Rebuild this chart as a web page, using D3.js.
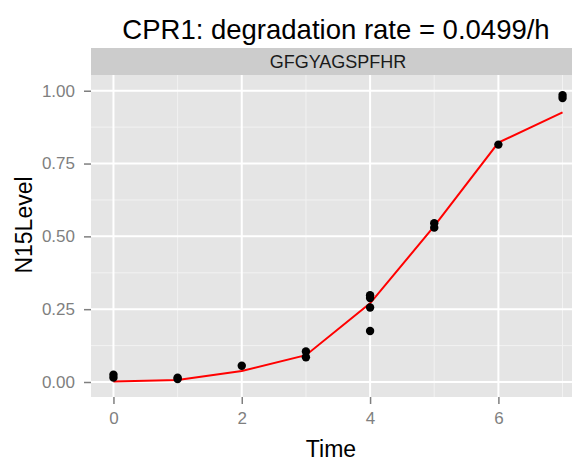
<!DOCTYPE html>
<html lang="en">
	<head>
		<meta charset="utf-8">
		<title>CPR1 degradation</title>
		<script type="text/javascript" src="https://d3js.org/d3.v7.min.js"></script>
		<style type="text/css">
			body {
				margin: 0;
				background-color: #ffffff;
				font-family: "Liberation Sans", Arial, Helvetica, sans-serif;
			}
			svg { display: block; }
		</style>
	</head>
	<body>
		<script type="text/javascript">

			// Measured points (time, N15 level)
			var pointTimes  = [0, 0, 1, 1, 2, 3, 3, 4, 4, 4, 4, 5, 5, 6, 7, 7];
			var pointLevels = [0.015, 0.025, 0.010, 0.015, 0.056, 0.085, 0.105,
			                   0.298, 0.288, 0.256, 0.175, 0.545, 0.530, 0.815, 0.985, 0.975];

			// Fitted curve
			var fitTimes  = [0, 1, 2, 3, 4, 5, 6, 7];
			var fitLevels = [0.002, 0.007, 0.038, 0.092, 0.270, 0.535, 0.822, 0.926];

			var xTicks = [0, 2, 4, 6];
			var xMinor = [1, 3, 5, 7];
			var yTicks = [0, 0.25, 0.5, 0.75, 1.0];
			var yMinor = [0.125, 0.375, 0.625, 0.875];

			var title = "CPR1: degradation rate = 0.0499/h";
			var stripLabel = "GFGYAGSPFHR";

			//Width and height
			var w = 572;
			var h = 462;

			var panel = {left: 91, right: 585, top: 75, bottom: 397};
			var stripTop = 48;

			var x = d3.scaleLinear()
				.domain([-0.35, 7.35])
				.range([panel.left, panel.right]);

			var y = d3.scaleLinear()
				.domain([-0.0515, 1.054])
				.range([panel.bottom, panel.top]);

			var svg = d3.select("body")
				.append("svg")
				.attr("width", w)
				.attr("height", h);

			// Panel background
			svg.append("rect")
				.attr("x", panel.left)
				.attr("y", panel.top)
				.attr("width", panel.right - panel.left)
				.attr("height", panel.bottom - panel.top)
				.attr("fill", "#e5e5e5");

			// Strip
			svg.append("rect")
				.attr("x", panel.left)
				.attr("y", stripTop)
				.attr("width", panel.right - panel.left)
				.attr("height", panel.top - stripTop)
				.attr("fill", "#cccccc");

			svg.append("text")
				.attr("x", (panel.left + panel.right) / 2)
				.attr("y", 68)
				.attr("text-anchor", "middle")
				.attr("font-size", "18px")
				.attr("fill", "#1a1a1a")
				.text(stripLabel);

			// Minor grid
			svg.selectAll("line.xminor")
				.data(xMinor)
				.enter().append("line")
				.attr("x1", function(d) { return x(d); })
				.attr("x2", function(d) { return x(d); })
				.attr("y1", panel.top)
				.attr("y2", panel.bottom)
				.attr("stroke", "#f2f2f2")
				.attr("stroke-width", 1);

			svg.selectAll("line.yminor")
				.data(yMinor)
				.enter().append("line")
				.attr("x1", panel.left)
				.attr("x2", panel.right)
				.attr("y1", function(d) { return y(d); })
				.attr("y2", function(d) { return y(d); })
				.attr("stroke", "#f2f2f2")
				.attr("stroke-width", 1);

			// Major grid
			svg.selectAll("line.xmajor")
				.data(xTicks)
				.enter().append("line")
				.attr("x1", function(d) { return x(d); })
				.attr("x2", function(d) { return x(d); })
				.attr("y1", panel.top)
				.attr("y2", panel.bottom)
				.attr("stroke", "#ffffff")
				.attr("stroke-width", 2);

			svg.selectAll("line.ymajor")
				.data(yTicks)
				.enter().append("line")
				.attr("x1", panel.left)
				.attr("x2", panel.right)
				.attr("y1", function(d) { return y(d); })
				.attr("y2", function(d) { return y(d); })
				.attr("stroke", "#ffffff")
				.attr("stroke-width", 2);

			// Axes
			var xAxis = svg.append("g")
				.attr("transform", "translate(0," + panel.bottom + ")")
				.call(d3.axisBottom(x).tickValues(xTicks).tickSize(7).tickPadding(8)
					.tickFormat(d3.format("d")));

			var yAxis = svg.append("g")
				.attr("transform", "translate(" + panel.left + ",0)")
				.call(d3.axisLeft(y).tickValues(yTicks).tickSize(7).tickPadding(9)
					.tickFormat(d3.format(".2f")));

			[xAxis, yAxis].forEach(function(a) {
				a.select(".domain").remove();
				a.selectAll(".tick line").attr("stroke", "#7f7f7f").attr("stroke-width", 1.5);
				a.selectAll(".tick text")
					.attr("fill", "#7f7f7f")
					.attr("font-size", "17px")
					.attr("font-family", "Liberation Sans, Arial, sans-serif");
			});

			// Fitted line
			var line = d3.line()
				.x(function(d, i) { return x(fitTimes[i]); })
				.y(function(d) { return y(d); });

			svg.append("path")
				.datum(fitLevels)
				.attr("d", line)
				.attr("fill", "none")
				.attr("stroke", "#ff0000")
				.attr("stroke-width", 2);

			// Points
			svg.selectAll("circle")
				.data(pointLevels)
				.enter().append("circle")
				.attr("cx", function(d, i) { return x(pointTimes[i]); })
				.attr("cy", function(d) { return y(d); })
				.attr("r", 4.2)
				.attr("fill", "#000000");

			// Titles
			svg.append("text")
				.attr("x", 336)
				.attr("y", 39)
				.attr("text-anchor", "middle")
				.attr("font-size", "27.5px")
				.attr("fill", "#000000")
				.text(title);

			svg.append("text")
				.attr("x", 331)
				.attr("y", 457)
				.attr("text-anchor", "middle")
				.attr("font-size", "23px")
				.attr("fill", "#000000")
				.text("Time");

			svg.append("text")
				.attr("transform", "translate(32,225) rotate(-90)")
				.attr("text-anchor", "middle")
				.attr("font-size", "23px")
				.attr("fill", "#000000")
				.text("N15Level");
		</script>
	</body>
</html>
